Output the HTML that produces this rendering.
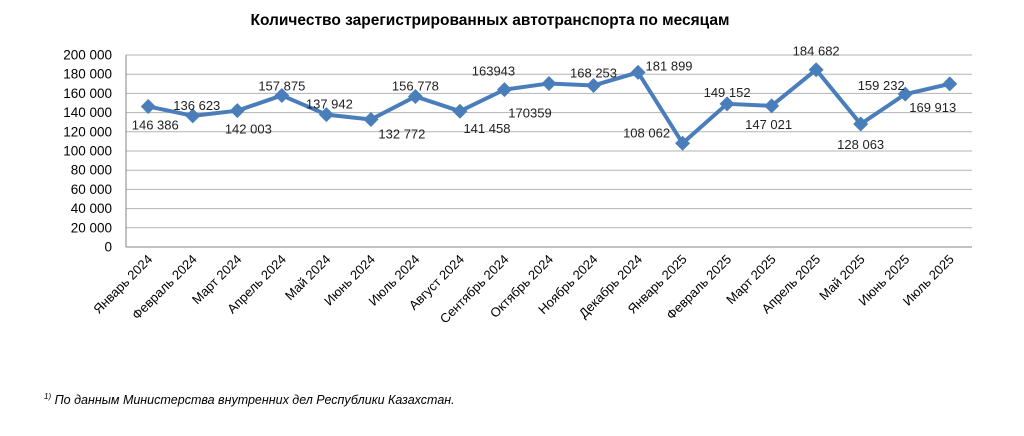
<!DOCTYPE html>
<html><head><meta charset="utf-8"><style>
body{margin:0;background:#fff;width:1024px;height:431px;overflow:hidden;font-family:"Liberation Sans",sans-serif;}
svg text{font-family:"Liberation Sans",sans-serif;}
</style></head><body>
<svg id="chart" width="1024" height="431" viewBox="0 0 1024 431" xmlns="http://www.w3.org/2000/svg">
<text x="490" y="25" text-anchor="middle" font-size="15.5" font-weight="bold" fill="#000">Количество зарегистрированных автотранспорта по месяцам</text>
<text x="44" y="404" font-size="12.5" font-style="italic" fill="#000"><tspan font-size="8" dy="-5">1)</tspan><tspan dy="5"> По данным Министерства внутренних дел Республики Казахстан.</tspan></text>
<g id="grid"></g><g id="axes"></g><g id="series"></g><g id="labels"></g>
</svg>
<script>
const categories=["Январь 2024","Февраль 2024","Март 2024","Апрель 2024","Май 2024","Июнь 2024","Июль 2024","Август 2024","Сентябрь 2024","Октябрь 2024","Ноябрь 2024","Декабрь 2024","Январь 2025","Февраль 2025","Март 2025","Апрель 2025","Май 2025","Июнь 2025","Июль 2025"];
const values=[146386,136623,142003,157875,137942,132772,156778,141458,163943,170359,168253,181899,108062,149152,147021,184682,128063,159232,169913];
const valueLabels=["146 386","136 623","142 003","157 875","137 942","132 772","156 778","141 458","163943","170359","168 253","181 899","108 062","149 152","147 021","184 682","128 063","159 232","169 913"];
const yTicks=[0,20000,40000,60000,80000,100000,120000,140000,160000,180000,200000];
const yTickLabels=["0","20 000","40 000","60 000","80 000","100 000","120 000","140 000","160 000","180 000","200 000"];
const labelOffsets=[[7,19],[4,-10],[11,19],[0,-9],[3,-10],[31,15],[0,-10],[27,18],[-11,-18],[-19,30],[0,-12],[31,-6],[-36,-10],[0,-11],[-3,19],[0,-18],[0,21],[-24,-8],[-17,24]];
const NS="http://www.w3.org/2000/svg";
const L=126,R=972,T=55,B=247,yMax=200000;
const bw=(R-L)/categories.length;
const x=i=>L+bw*(i+0.5);
const y=v=>B-(v/yMax)*(B-T);
function mk(tag,attrs,parent){const e=document.createElementNS(NS,tag);for(const k in attrs)e.setAttribute(k,attrs[k]);parent.appendChild(e);return e;}
const grid=document.getElementById('grid'),axes=document.getElementById('axes'),ser=document.getElementById('series'),lab=document.getElementById('labels');
yTicks.forEach((t,i)=>{
 const ln=mk('line',{x1:L,x2:R,y1:y(t),y2:y(t),stroke:i==0?'#868686':'#b3b3b3','stroke-width':1},grid);
 
 
 const tx=mk('text',{x:112,y:y(t)+4.5,'text-anchor':'end','font-size':13.5,fill:'#000'},axes);
 tx.textContent=yTickLabels[i];
 
 
});
const ya=mk('line',{x1:L,x2:L,y1:T,y2:B,stroke:'#868686'},axes);


categories.forEach((c,i)=>{
 const tx=mk('text',{x:x(i)+5,y:B+13,'text-anchor':'end','font-size':13,fill:'#000',transform:`rotate(-45 ${x(i)+5} ${B+13})`},axes);
 tx.textContent=c;
 
 
});
const pl=mk('polyline',{points:values.map((v,i)=>x(i)+','+y(v)).join(' '),fill:'none',stroke:'#4a7ebb','stroke-width':4,'stroke-linejoin':'round'},ser);


values.forEach((v,i)=>{
 const cx=x(i),cy=y(v),s=7.5;
 const m=mk('polygon',{points:`${cx},${cy-s} ${cx+s},${cy} ${cx},${cy+s} ${cx-s},${cy}`,fill:'#4a7ebb'},ser);
 
 
 const o=labelOffsets[i];
 const t=mk('text',{x:cx+o[0],y:cy+o[1]+4,'text-anchor':'middle','font-size':13,fill:'#222'},lab);
 t.textContent=valueLabels[i];
 
 
});
</script>
</body></html>
